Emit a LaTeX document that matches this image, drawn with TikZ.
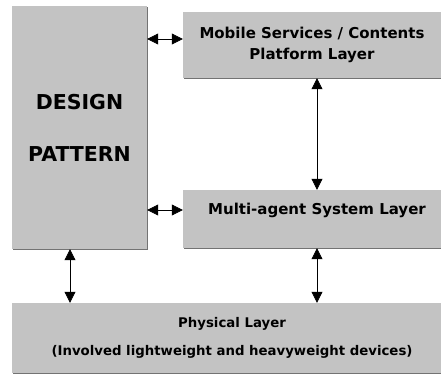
\documentclass[tikz,border=0pt]{standalone}
\usepackage{fontspec}
\setmainfont{DejaVu Sans}
\usetikzlibrary{arrows.meta,shadows}
\definecolor{boxgray}{RGB}{195,195,195}

\begin{document}
\begin{tikzpicture}[
        %pixel units, y pointing down
        x=1pt, y=-1pt,
        layer/.style={fill=boxgray, inner sep=0pt, align=center,
            font=\bfseries\fontsize{15}{21.5}\selectfont,
            drop shadow={shadow xshift=1.2pt, shadow yshift=-1.2pt, fill=black!55, opacity=1}},
        link/.style={semithick, {Triangle[length=11pt,width=11pt]}-{Triangle[length=11pt,width=11pt]}},
    ]
    \useasboundingbox (0,0) rectangle (441,374);

    % The layers are placed
    \node[layer, minimum width=135pt, minimum height=243pt,
        font=\bfseries\fontsize{20.5}{24}\selectfont]
        (design) at (79.5,127.5) {DESIGN\\[28pt]PATTERN};
    \node[layer, minimum width=258pt, minimum height=66pt]
        (mobile) at (312,45) {Mobile Services / Contents\\Platform Layer};
    \node[layer, minimum width=258pt, minimum height=58pt]
        (agent) at (312,219) {};
    \node[font=\bfseries\fontsize{15}{18}\selectfont]
        (agenttext) at (317,210) {Multi-agent System Layer};
    \node[layer, minimum width=429pt, minimum height=70pt]
        (physical) at (226.5,338) {};
    \node[font=\bfseries\fontsize{13.3}{28}\selectfont, align=center]
        (physicaltext) at (232,338) {Physical Layer\\(Involved lightweight and heavyweight devices)};

    % arrows between the layers
    \draw[link] ([yshift=6pt]design.east |- mobile.west) -- ([yshift=6pt]mobile.west);
    \draw[link] (design.east |- agenttext) -- (agent.west |- agenttext);
    \draw[link] (mobile.south -| agenttext) -- (agent.north -| agenttext);
    \draw[link] ([xshift=-9.5pt]design.south) -- ([xshift=-9.5pt]design.south |- physical.north);
    \draw[link] (agent.south -| agenttext) -- (physical.north -| agenttext);
\end{tikzpicture}
\end{document}
